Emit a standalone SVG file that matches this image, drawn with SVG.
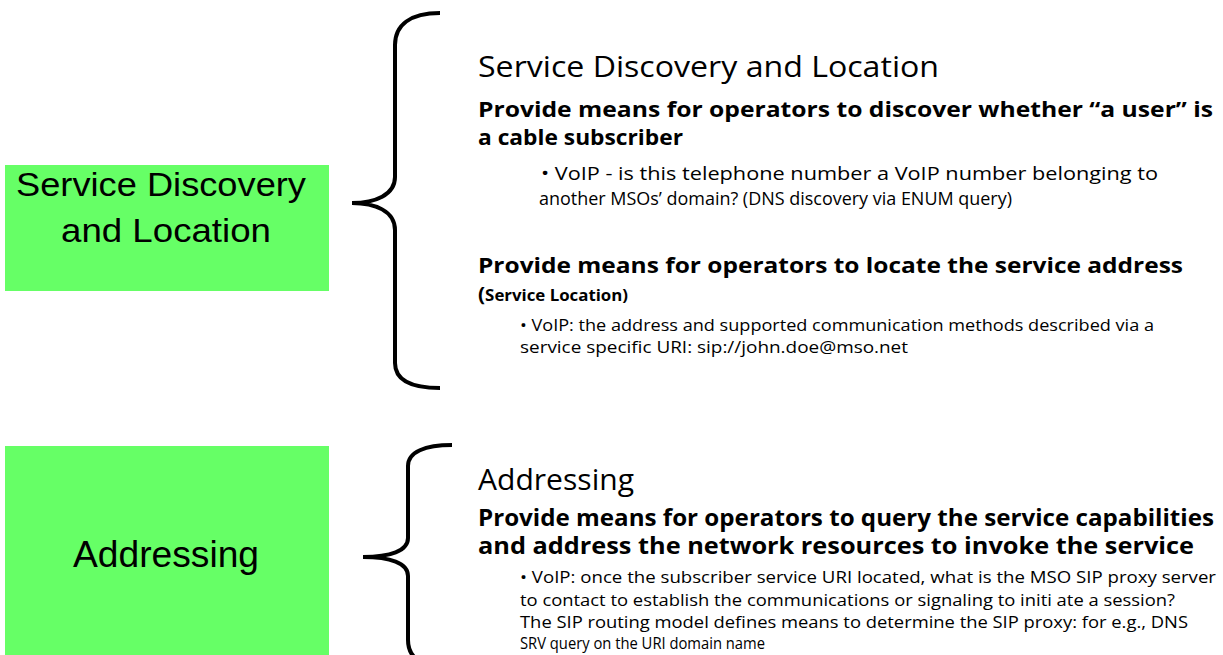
<svg xmlns="http://www.w3.org/2000/svg" width="1223" height="655" viewBox="0 0 1223 655">
<style>
.box{fill:#66FF66;stroke:none}
.lbl{font-family:"Liberation Sans",Arial,sans-serif;fill:#000;text-anchor:middle}
.brace{fill:none;stroke:#000;stroke-width:4;stroke-linecap:butt}
.t{font-family:"Open Sans","Noto Sans",sans-serif;fill:#000}
.title{font-size:30px;font-weight:400}
.b{font-weight:700}
</style>
<rect width="1223" height="655" fill="#fff"/>
<g id="node-sdl">
<rect class="box" x="5" y="165" width="324" height="126"/>
<text class="lbl" x="161" y="196" font-size="34" textLength="290" lengthAdjust="spacingAndGlyphs">Service Discovery</text>
<text class="lbl" x="166" y="242" font-size="34" textLength="210" lengthAdjust="spacingAndGlyphs">and Location</text>
</g>
<g id="node-addr">
<rect class="box" x="5" y="446" width="324" height="215"/>
<text class="lbl" x="166" y="567" font-size="37" textLength="186" lengthAdjust="spacingAndGlyphs">Addressing</text>
</g>
<g id="connectors">
<path class="brace" d="M440,13 C410,13 395,25 395,45 L395,177 C395,195 375,203 352,203 C375,203 395,211 395,230 L395,363 C395,380 410,388 440,388"/>
<path class="brace" d="M452,445 C425,445 408,452 408,466 L408,538 C408,551 390,557 363,557 C390,557 408,563 408,576 L408,640 C408,660 425,668 452,668"/>
</g>
<g id="text-sdl">
<text class="t title" x="478" y="77" textLength="461" lengthAdjust="spacingAndGlyphs">Service Discovery and Location</text>
<text class="t b" x="478" y="117" font-size="22" textLength="735" lengthAdjust="spacingAndGlyphs">Provide means for operators to discover whether “a user” is</text>
<text class="t b" x="478" y="145" font-size="22" textLength="205" lengthAdjust="spacingAndGlyphs">a cable subscriber</text>
<text class="t" x="541" y="180" font-size="19" textLength="617" lengthAdjust="spacingAndGlyphs">• VoIP - is this telephone number a VoIP number belonging to</text>
<text class="t" x="539" y="205" font-size="19" textLength="473" lengthAdjust="spacingAndGlyphs">another MSOs’ domain? (DNS discovery via ENUM query)</text>
<text class="t b" x="478" y="273" font-size="22" textLength="705" lengthAdjust="spacingAndGlyphs">Provide means for operators to locate the service address</text>
<text class="t b" x="478" y="301" font-size="16" textLength="150" lengthAdjust="spacingAndGlyphs"><tspan font-size="20">(</tspan>Service Location)</text>
<text class="t" x="520" y="331" font-size="16" textLength="634" lengthAdjust="spacingAndGlyphs">• VoIP: the address and supported communication methods described via a</text>
<text class="t" x="520" y="353" font-size="16" textLength="388" lengthAdjust="spacingAndGlyphs">service specific URI: sip://john.doe@mso.net</text>
</g>
<g id="text-addr">
<text class="t title" x="478" y="490" textLength="156" lengthAdjust="spacingAndGlyphs">Addressing</text>
<text class="t b" x="478" y="526" font-size="24" textLength="736" lengthAdjust="spacingAndGlyphs">Provide means for operators to query the service capabilities</text>
<text class="t b" x="478" y="554" font-size="24" textLength="716" lengthAdjust="spacingAndGlyphs">and address the network resources to invoke the service</text>
<text class="t" x="520" y="583" font-size="17" textLength="696" lengthAdjust="spacingAndGlyphs">• VoIP: once the subscriber service URI located, what is the MSO SIP proxy server</text>
<text class="t" x="520" y="606" font-size="17" textLength="655" lengthAdjust="spacingAndGlyphs">to contact to establish the communications or signaling to initi ate a session?</text>
<text class="t" x="520" y="628" font-size="17" textLength="668" lengthAdjust="spacingAndGlyphs">The SIP routing model defines means to determine the SIP proxy: for e.g., DNS</text>
<text class="t" x="520" y="649" font-size="17" textLength="245" lengthAdjust="spacingAndGlyphs">SRV query on the URI domain name</text>
</g>
</svg>
